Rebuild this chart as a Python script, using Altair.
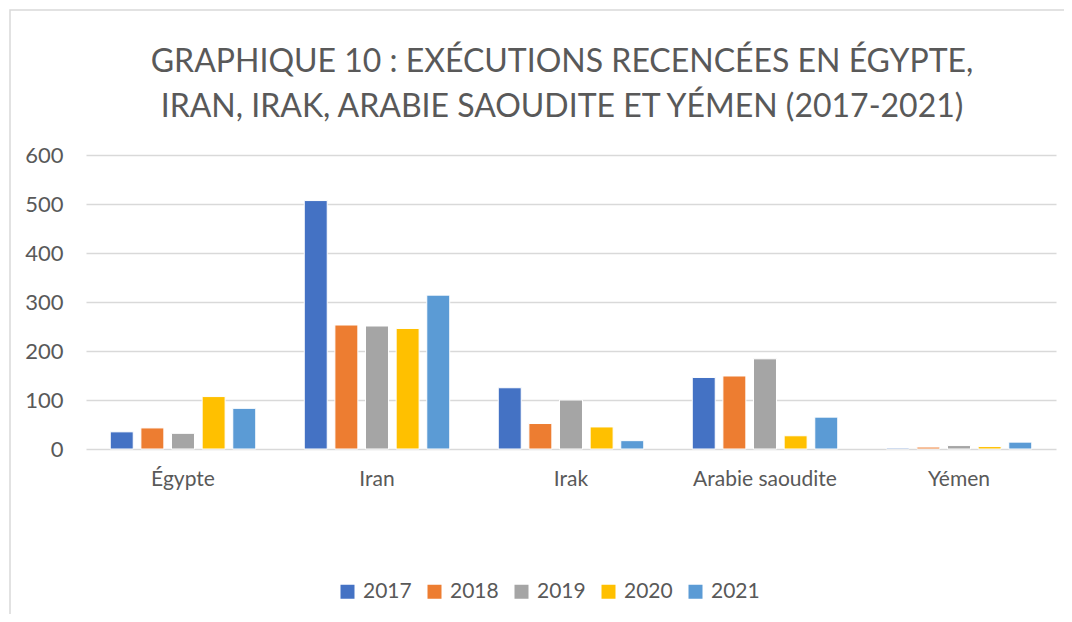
import altair as alt
import pandas as pd

pays = ["Égypte", "Iran", "Irak", "Arabie saoudite", "Yémen"]
annees = ["2017", "2018", "2019", "2020", "2021"]
v2017 = [35, 507, 125, 146, 2]
v2018 = [43, 253, 52, 149, 4]
v2019 = [32, 251, 100, 184, 7]
v2020 = [107, 246, 45, 27, 5]
v2021 = [83, 314, 17, 65, 14]
couleurs = ["#4472C4", "#ED7D31", "#A5A5A5", "#FFC000", "#5B9BD5"]
y_ticks = [0, 100, 200, 300, 400, 500, 600]

series = [v2017, v2018, v2019, v2020, v2021]
rows = []
for a, vals in zip(annees, series):
    for p, v in zip(pays, vals):
        rows.append({"pays": p, "annee": a, "valeur": v})
df = pd.DataFrame(rows)

FONT = "Lato"
GREY = "#595959"

bars = alt.Chart(df).mark_bar(stroke="white", strokeWidth=1).encode(
    x=alt.X("pays:N", sort=pays,
            scale=alt.Scale(paddingInner=0.25, paddingOuter=0.125),
            axis=alt.Axis(title=None, labelAngle=0, domain=False, ticks=False,
                          labelPadding=19, labelFontSize=21, labelFont=FONT,
                          labelColor=GREY)),
    xOffset=alt.XOffset("annee:N", sort=annees,
                        scale=alt.Scale(paddingInner=0.25, paddingOuter=0)),
    y=alt.Y("valeur:Q", scale=alt.Scale(domain=[0, 600], nice=False),
            axis=alt.Axis(title=None, values=y_ticks, domain=False, ticks=False,
                          labelPadding=23, labelFontSize=22, labelFont=FONT,
                          labelColor=GREY, gridColor="#d9d9d9", gridWidth=1.5)),
    color=alt.Color("annee:N", sort=annees,
                    scale=alt.Scale(domain=annees, range=couleurs),
                    legend=alt.Legend(title=None, orient="none", direction="horizontal",
                                      legendX=251, legendY=426,
                                      symbolType="square", symbolSize=196,
                                      symbolStrokeWidth=0,
                                      labelFontSize=21, labelFont=FONT,
                                      labelColor=GREY, labelOffset=5,
                                      columnPadding=12)),
)

border = alt.Chart(alt.Data(values=[{"k": 1}])).mark_rect(
    fill=None, stroke="#d9d9d9", strokeWidth=1.5
).encode(
    x=alt.value(-76), x2=alt.value(1100),
    y=alt.value(-145), y2=alt.value(700),
)

chart = alt.layer(border, bars).properties(
    width=970, height=294,
    padding={"left": 78, "top": 147, "right": 8, "bottom": 165},
    autosize=alt.AutoSizeParams(type="none"),
    title=alt.TitleParams(
        ["GRAPHIQUE 10 : EXÉCUTIONS RECENCÉES EN ÉGYPTE,",
         "IRAN, IRAK, ARABIE SAOUDITE ET YÉMEN (2017-2021)"],
        font=FONT, fontSize=32, fontWeight="normal", color=GREY,
        lineHeight=45, anchor="middle", offset=0, dx=-9, dy=115),
).configure_view(stroke=None)

chart.save("out.html", embed_options={"renderer": "svg", "actions": False})
